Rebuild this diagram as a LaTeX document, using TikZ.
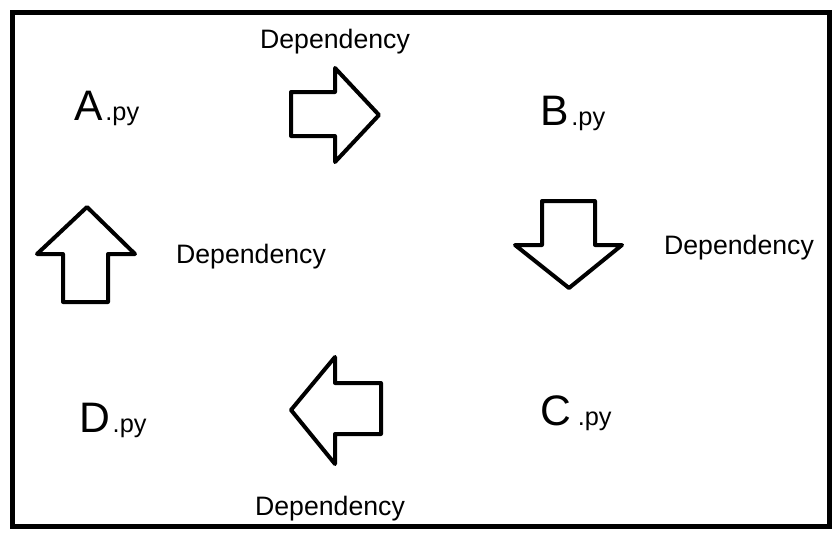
\documentclass[tikz,border=0pt]{standalone}
\usepackage{fontspec}
\setmainfont{Liberation Sans}
\usetikzlibrary{positioning}

\begin{document}
\begin{tikzpicture}[
    x=0.75pt, y=-0.75pt,
    frame/.style={draw, line width=3.75pt},
    blockarr/.style={draw, line width=3pt, line join=round, fill=white},
    deplabel/.style={font=\fontsize{20}{20}\selectfont, inner sep=0pt},
    module/.style={anchor=base west, inner sep=0pt},
]
    \useasboundingbox (0,0) rectangle (839,543);
    \draw[frame] (12,12) rectangle (829,526);

    % Modules: A top-left, B top-right, C bottom-right, D bottom-left
    \newcommand{\modname}[2]{{\fontsize{32}{32}\selectfont #1}\hspace{2pt}{\fontsize{19}{19}\selectfont #2}}
    \node[module] (A) at (74,120) {\modname{A}{.py}};
    \node[module] (B) at (540,125) {\modname{B}{.py}};
    \node[module] (C) at (540,425) {\modname{C}{\hspace{3pt}.py}};
    \node[module] (D) at (79,432) {\modname{D}{.py}};

    % Block arrows between the modules
    \draw[blockarr] (291,92) -- (335,92) -- (335,68) -- (379,115) -- (335,162) -- (335,136) -- (291,136) -- cycle;
    \draw[blockarr] (542,201) -- (595,201) -- (595,245) -- (622,245) -- (569,288) -- (515,245) -- (542,245) -- cycle;
    \draw[blockarr] (381,383) -- (335,383) -- (335,357) -- (291,410) -- (335,464) -- (335,434) -- (381,434) -- cycle;
    \draw[blockarr] (63,302) -- (63,254) -- (37,254) -- (87,207) -- (135,254) -- (108,254) -- (108,302) -- cycle;

    % Labels
    \node[deplabel] (dAB) at (335,42) {Dependency};
    \node[deplabel] (dBC) at (739,248) {Dependency};
    \node[deplabel] (dCD) at (330,509) {Dependency};
    \node[deplabel] (dDA) at (251,257) {Dependency};
\end{tikzpicture}
\end{document}
